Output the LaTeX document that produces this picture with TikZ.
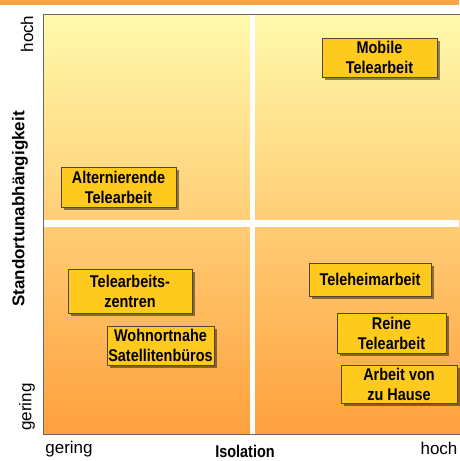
\documentclass[tikz,border=0pt]{standalone}
\usepackage{fontspec}
\setmainfont{Liberation Sans}
\newfontfamily\narrowfont[FakeStretch=0.85]{Liberation Sans}
\usepackage{tikz}
\usetikzlibrary{shadows}
\definecolor{stripe}{RGB}{246,165,72}
\definecolor{fieldtop}{RGB}{255,250,172}
\definecolor{fieldmid}{RGB}{255,214,112}
\definecolor{fieldbot}{RGB}{255,160,62}
\definecolor{boxfill}{RGB}{255,202,30}
\definecolor{boxline}{RGB}{80,70,50}
\tikzset{
  formbox/.style={rectangle, draw=boxline, line width=0.9pt, fill=boxfill, align=center,
    inner sep=1pt, font=\narrowfont\bfseries\fontsize{17}{20}\selectfont,
    drop shadow={shadow xshift=3pt, shadow yshift=-3pt, fill=black, opacity=0.45}},
  ticklbl/.style={inner sep=0pt, font=\fontsize{17}{19}\selectfont},
  axislbl/.style={inner sep=0pt, font=\bfseries\fontsize{17}{19}\selectfont},
  divider/.style={white, line width=#1}
}

\begin{document}
\begin{tikzpicture}[x=1pt, y=-1pt]
  \useasboundingbox (0,0) rectangle (459,461);
  % top stripe
  \fill[stripe] (0,0) rectangle (459,5);
  % field
  \shade[top color=fieldtop, middle color=fieldmid, bottom color=fieldbot]
    (43,14) rectangle (460,434);
  \draw[gray!80!black, line width=0.7pt] (460,14) -- (43,14) -- (43,434) -- (460,434);
  \draw[divider=5pt] (252.5,14.5) -- (252.5,433.5);
  \draw[divider=7pt] (43.5,223) -- (459,223);

  % upper quadrants
  \node[formbox, minimum width=115pt, minimum height=40pt] (alt) at (118.5,187) {Alternierende\\Telearbeit};
  \node[formbox, minimum width=115pt, minimum height=39pt] (mobil) at (379.5,57.5) {Mobile\\Telearbeit};

  % lower quadrants
  \node[formbox, minimum width=124pt, minimum height=44pt] (zentren) at (130,291) {Telearbeits-\\zentren};
  \node[formbox, minimum width=107pt, minimum height=39pt] (satellit) at (160.5,345.5) {Wohnortnahe\\Satellitenbüros};
  \node[formbox, minimum width=122pt, minimum height=33pt] (heim) at (370,279.5) {Teleheimarbeit};
  \node[formbox, minimum width=109pt, minimum height=40pt] (reine) at (391.5,333) {Reine\\Telearbeit};
  \node[formbox, minimum width=116pt, minimum height=38pt] (hause) at (399,384) {Arbeit von\\zu Hause};

  % axes
  \node[ticklbl, rotate=90] (yhoch) at (27,34) {hoch};
  \node[ticklbl, rotate=90] (ygering) at (27,407) {gering};
  \node[axislbl, rotate=90] (ytitel) at (20,209) {Standortunabhängigkeit};
  \node[ticklbl] (xgering) at (69,449) {gering};
  \node[axislbl, font=\narrowfont\bfseries\fontsize{17}{19}\selectfont] (xtitel) at (245,451) {Isolation};
  \node[ticklbl] (xhoch) at (439,448) {hoch};
\end{tikzpicture}
\end{document}
